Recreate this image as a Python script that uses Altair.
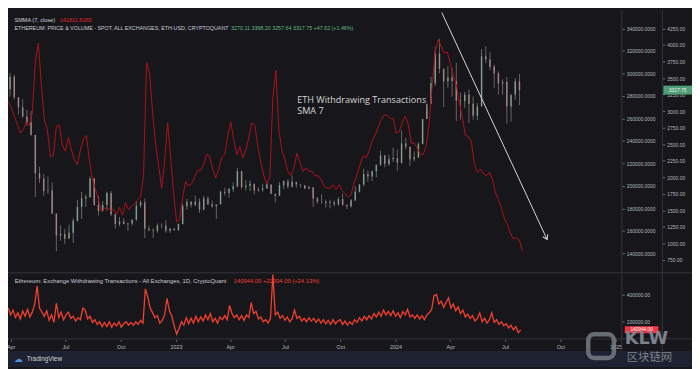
import altair as alt
import pandas as pd

# ---------------- data ----------------
# Exchange withdrawing transactions, SMA 7 (thousands), 5-day steps from 2022-03-28
sma_start = "2022-03-28"
sma_k = [
    275, 270, 262, 255, 247, 250, 257, 254, 265, 310,
    327, 290, 259, 250, 226, 227, 253, 254, 236, 231,
    243, 232, 223, 219, 232, 242, 245, 222, 206, 197,
    188, 177, 180, 181, 178, 179, 175, 181, 174, 185,
    179, 182, 184, 187, 190, 210, 310, 300, 266, 237,
    218, 198, 222, 256, 226, 193, 168, 170, 190, 204,
    200, 202, 208, 214, 214, 219, 228, 226, 215, 207,
    215, 225, 228, 245, 257, 241, 228, 235, 225, 232,
    243, 256, 254, 235, 221, 209, 202, 208, 278, 303,
    250, 232, 223, 213, 209, 216, 229, 221, 213, 216,
    213, 213, 209, 209, 206, 200, 198, 198, 201, 197,
    201, 196, 193, 190, 192, 203, 210, 219, 227, 225,
    231, 240, 245, 252, 259, 263, 263, 260, 260, 247,
    248, 256, 262, 255, 238, 238, 234, 228, 228, 236,
    256, 290, 320, 330, 324, 318, 319, 309, 298, 290,
    274, 261, 245, 244, 239, 220, 212, 215, 211, 209,
    212, 206, 194, 188, 180, 171, 166, 158, 153, 154,
    152, 141.8,
]

# Raw daily withdrawing transactions (thousands), sampled every 4 days from 2022-03-28
raw_start = "2022-03-28"
raw_k = [
    300, 250, 285, 230, 265, 220, 280, 240, 290, 235,
    270, 330, 460, 300, 270, 240, 280, 210, 250, 195,
    335, 230, 270, 215, 250, 270, 225, 240, 205, 230,
    215, 300, 285, 220, 240, 195, 215, 180, 200, 165,
    195, 165, 200, 160, 190, 170, 200, 160, 185, 200,
    175, 195, 175, 200, 180, 210, 190, 440, 380, 300,
    265, 230, 245, 190, 210, 250, 370, 280, 240, 170,
    110, 150, 200, 175, 230, 185, 225, 190, 240, 200,
    235, 205, 250, 215, 260, 200, 225, 190, 235, 215,
    245, 215, 320, 260, 230, 250, 215, 245, 210, 250,
    230, 340, 260, 275, 220, 235, 200, 215, 190, 225,
    545, 250, 270, 225, 245, 210, 235, 200, 220, 285,
    225, 240, 205, 225, 200, 230, 205, 225, 195, 220,
    190, 215, 185, 210, 180, 215, 185, 205, 215, 180,
    205, 175, 200, 180, 215, 195, 230, 205, 240, 215,
    245, 220, 260, 235, 270, 240, 285, 250, 275, 245,
    280, 240, 265, 230, 275, 250, 290, 235, 250, 225,
    250, 220, 245, 215, 250, 265, 290, 390, 400, 330,
    350, 305, 340, 375, 300, 330, 280, 310, 260, 285,
    235, 255, 225, 245, 205, 225, 265, 200, 225, 190,
    215, 265, 195, 215, 180, 200, 170, 185, 155, 175,
    140, 165, 119, 140.944,
]

# ETH-USD weekly candles (week centres from 2022-03-31)
week_start = "2022-03-31"
week_open = [
    3330, 3520, 3210, 3060, 2920, 2830, 2640, 2060, 1980, 1790,
    1800, 1450, 1120, 1140, 1070, 1160, 1340, 1550, 1680, 1700,
    1980, 1580, 1490, 1580, 1760, 1440, 1290, 1330, 1290, 1300,
    1360, 1570, 1620, 1220, 1200, 1190, 1270, 1270, 1190, 1220,
    1200, 1290, 1560, 1630, 1580, 1630, 1510, 1680, 1590, 1560,
    1590, 1780, 1760, 1820, 1860, 2090, 1850, 1870, 1900, 1800,
    1810, 1830, 1890, 1750, 1720, 1880, 1940, 1860, 1930, 1890,
    1880, 1830, 1850, 1680, 1630, 1630, 1610, 1620, 1590, 1670,
    1580, 1560, 1650, 1780, 1890, 2050, 2010, 2090, 2190, 2330,
    2200, 2270, 2290, 2220, 2510, 2460, 2270, 2300, 2500, 2880,
    3110, 3420, 3870, 3640, 3450, 3510, 3450, 3160, 3150, 3250,
    3110, 2930, 3070, 3830, 3780, 3670, 3570, 3420, 3440, 3070,
    3250, 3450,
]
week_high = [
    3580, 3550, 3210, 3180, 3020, 3000, 2640, 2160, 2050, 2010,
    1920, 1450, 1270, 1220, 1280, 1380, 1660, 1780, 1740, 2010,
    1990, 1720, 1640, 1780, 1790, 1440, 1400, 1380, 1310, 1340,
    1640, 1650, 1680, 1270, 1230, 1300, 1300, 1350, 1230, 1230,
    1300, 1600, 1670, 1640, 1720, 1680, 1720, 1710, 1650, 1570,
    1800, 1840, 1840, 1920, 2140, 2100, 1960, 1950, 1900, 1850,
    1900, 1930, 1890, 1750, 1930, 1950, 1970, 2020, 1930, 1890,
    1880, 1870, 1850, 1700, 1740, 1660, 1660, 1650, 1700, 1750,
    1590, 1670, 1860, 1900, 2130, 2100, 2100, 2190, 2400, 2340,
    2340, 2450, 2420, 2710, 2600, 2460, 2390, 2530, 2870, 3030,
    3520, 3970, 4090, 3640, 3680, 3650, 3730, 3280, 3290, 3330,
    3220, 3120, 3940, 3980, 3890, 3700, 3600, 3480, 3520, 3220,
    3500, 3560,
]
week_low = [
    3220, 3180, 2950, 2900, 2780, 2630, 1700, 1910, 1720, 1750,
    1440, 880, 1040, 990, 1070, 1010, 1330, 1370, 1550, 1690,
    1570, 1420, 1480, 1490, 1410, 1220, 1260, 1300, 1190, 1270,
    1340, 1540, 1080, 1180, 1080, 1160, 1230, 1160, 1160, 1190,
    1190, 1290, 1510, 1540, 1560, 1460, 1500, 1580, 1540, 1370,
    1590, 1720, 1690, 1780, 1850, 1820, 1800, 1790, 1740, 1780,
    1780, 1830, 1740, 1620, 1720, 1820, 1830, 1840, 1840, 1840,
    1820, 1820, 1550, 1600, 1600, 1540, 1530, 1560, 1570, 1570,
    1520, 1540, 1640, 1770, 1860, 1930, 1940, 2000, 2170, 2150,
    2170, 2230, 2100, 2200, 2420, 2170, 2240, 2290, 2500, 2880,
    3110, 3380, 3570, 3060, 3350, 3220, 2850, 2870, 3050, 2820,
    2870, 2860, 3070, 3720, 3620, 3350, 3250, 3250, 2810, 2840,
    3170, 3090,
]
week_close = [
    3520, 3210, 3060, 2920, 2830, 2640, 2060, 1980, 1790, 1800,
    1450, 1120, 1140, 1070, 1160, 1340, 1550, 1680, 1700, 1980,
    1580, 1490, 1580, 1760, 1440, 1290, 1330, 1290, 1300, 1360,
    1570, 1620, 1220, 1200, 1190, 1270, 1270, 1190, 1220, 1200,
    1290, 1560, 1630, 1580, 1630, 1510, 1680, 1590, 1560, 1590,
    1780, 1760, 1820, 1860, 2090, 1850, 1870, 1900, 1800, 1810,
    1830, 1890, 1750, 1720, 1880, 1940, 1860, 1930, 1890, 1880,
    1830, 1850, 1680, 1630, 1630, 1610, 1620, 1590, 1670, 1580,
    1560, 1650, 1780, 1890, 2050, 2010, 2090, 2190, 2330, 2200,
    2270, 2290, 2220, 2510, 2460, 2270, 2300, 2500, 2880, 3110,
    3420, 3870, 3640, 3450, 3510, 3450, 3160, 3150, 3250, 3110,
    2930, 3070, 3830, 3780, 3670, 3570, 3420, 3440, 3070, 3250,
    3450, 3317.75,
]

# trend arrow drawn on the chart (date, ETH price)
arrow_dates = ["2024-03-18", "2024-09-09"]
arrow_prices = [4488, 1058]

x_tick_dates = [(2022, 4, 1), (2022, 7, 1), (2022, 10, 1), (2023, 1, 1), (2023, 4, 1),
                (2023, 7, 1), (2023, 10, 1), (2024, 1, 1), (2024, 4, 1), (2024, 7, 1),
                (2024, 10, 1), (2025, 1, 1)]
sma_ticks = [140000, 160000, 180000, 200000, 220000, 240000, 260000, 280000, 300000, 320000, 340000]
price_ticks = [750, 1000, 1250, 1500, 1750, 2000, 2250, 2500, 2750, 3000, 3250, 3500, 3750, 4000, 4250]
raw_ticks = [200000, 400000]

hdr_sma = "SMMA (7, close)"
hdr_sma_val = "141811.8265"
hdr_price = "ETHEREUM: PRICE & VOLUME - SPOT, ALL EXCHANGES, ETH-USD, CRYPTOQUANT"
hdr_price_val = "3270.11   3398.20   3257.64   3317.75   +47.62 (+1.46%)"
hdr_raw = "Ethereum: Exchange Withdrawing Transactions - All Exchanges, 1D, CryptoQuant"
hdr_raw_val = "140944.00   +22394.00 (+24.13%)"
note_lines = ["ETH Withdrawing Transactions", "SMA 7"]

# ---------------- tables ----------------
sdf = pd.DataFrame({"date": pd.date_range(sma_start, periods=len(sma_k), freq="5D"),
                    "sma": [v * 1000 for v in sma_k]})
rdf = pd.DataFrame({"date": pd.date_range(raw_start, periods=len(raw_k), freq="4D"),
                    "raw": [v * 1000 for v in raw_k]})
cdf = pd.DataFrame({"date": pd.date_range(week_start, periods=len(week_open), freq="7D"),
                    "open": week_open, "high": week_high, "low": week_low, "close": week_close})
cdf["dir"] = ["up" if c >= o else "down" for o, c in zip(cdf["open"], cdf["close"])]
adf = pd.DataFrame({"d0": [pd.Timestamp(arrow_dates[0])], "d1": [pd.Timestamp(arrow_dates[1])],
                    "p0": [arrow_prices[0]], "p1": [arrow_prices[1]]})
last_price = cdf.tail(1).assign(label=f"{week_close[-1]:.2f}")
last_raw = rdf.tail(1).assign(label=f"{raw_k[-1] * 1000:.2f}")

# ---------------- styling ----------------
W, H = 621, 333
BG = "#17171b"
GRID = "#35363d"
LBL = "#b2b5be"
FONT = "Liberation Sans"

x_scale = alt.Scale(domain=[alt.DateTime(year=2022, month=3, date=27, hours=14),
                            alt.DateTime(year=2025, month=1, date=11, hours=5)])
price_scale = alt.Scale(domain=[750, 4250], range=[252.7, 18.6], zero=False, nice=False)
sma_scale = alt.Scale(domain=[140000, 340000], range=[246.2, 18.6], zero=False, nice=False)
raw_scale = alt.Scale(domain=[0, 400000], range=[343.0, 287.6], zero=False, nice=False)

def yaxis(values, fmt, offset=0):
    return alt.Axis(orient="right", values=values, format=fmt, offset=offset, domain=False,
                    grid=False, title=None, labelFont=FONT, labelFontSize=5, labelColor=LBL,
                    tickColor="#6a6d76", tickSize=2.5, labelPadding=2)

x_axis = alt.Axis(values=[alt.DateTime(year=y, month=m, date=d) for y, m, d in x_tick_dates],
                  labelExpr="month(datum.value) == 0 ? timeFormat(datum.value, '%Y') : timeFormat(datum.value, '%b')",
                  domain=False, grid=False, title=None, labelFont=FONT, labelFontSize=5.5,
                  labelColor=LBL, tickColor="#6a6d76", tickSize=2, labelPadding=3,
                  labelFlush=False, labelOverlap=False, orient="bottom")

def X(field="date"):
    return alt.X(f"{field}:T", scale=x_scale, axis=x_axis)

dir_color = alt.Color("dir:N", scale=alt.Scale(domain=["up", "down"], range=["#8fa697", "#a88f8f"]),
                      legend=None)

layers = []

# footer band and pane separators
layers.append(alt.Chart().mark_rect(color="#1e2230").encode(
    x=alt.value(0), x2=alt.value(692), y=alt.value(345), y2=alt.value(361)))
for xv in (W, 662):
    layers.append(alt.Chart().mark_rule(color=GRID, strokeWidth=1).encode(
        x=alt.value(xv), y=alt.value(0), y2=alt.value(345)))
for yv in (265.8, 332.6):
    layers.append(alt.Chart().mark_rule(color=GRID, strokeWidth=1).encode(
        x=alt.value(0), x2=alt.value(692), y=alt.value(yv)))

# candles
layers.append(alt.Chart(cdf).mark_rule(strokeWidth=0.7, opacity=0.85).encode(
    x=X(), y=alt.Y("low:Q", scale=price_scale, axis=yaxis(price_ticks, ".2f", 41)),
    y2="high:Q", color=dir_color))
layers.append(alt.Chart(cdf).mark_rule(strokeWidth=1.5, opacity=0.85).encode(
    x=X(), y=alt.Y("open:Q", scale=price_scale, axis=None), y2="close:Q", color=dir_color))

# SMA line
layers.append(alt.Chart(sdf).mark_line(color="#ad111a", strokeWidth=1).encode(
    x=X(), y=alt.Y("sma:Q", scale=sma_scale, axis=yaxis(sma_ticks, ".4f"))))

# raw series (lower pane)
layers.append(alt.Chart(rdf).mark_line(color="#f2402f", strokeWidth=1.3).encode(
    x=X(), y=alt.Y("raw:Q", scale=raw_scale, axis=yaxis(raw_ticks, ".2f"))))

# arrow
layers.append(alt.Chart(adf).mark_rule(color="#d9d9d9", strokeWidth=1).encode(
    x=X("d0"), x2="d1:T", y=alt.Y("p0:Q", scale=price_scale, axis=None), y2="p1:Q"))
layers.append(alt.Chart(adf).mark_point(shape="M -1 -1.6 L 0 0 L 1 -1.6", filled=False,
                                        strokeWidth=1, size=30, angle=335, color="#d9d9d9",
                                        opacity=1).encode(
    x=X("d1"), y=alt.Y("p1:Q", scale=price_scale, axis=None)))

# last value labels on the scales
layers.append(alt.Chart(last_price).mark_rect(color="#4e9f76", yOffset=4.5, y2Offset=-4.5).encode(
    x=alt.value(663), x2=alt.value(692),
    y=alt.Y("close:Q", scale=price_scale, axis=None), y2="close:Q"))
layers.append(alt.Chart(last_price).mark_text(font=FONT, fontSize=5, color="#f0f0f0").encode(
    x=alt.value(677.5), y=alt.Y("close:Q", scale=price_scale, axis=None), text="label:N"))
layers.append(alt.Chart(last_raw).mark_rect(color="#f23645", yOffset=3.5, y2Offset=-3.5).encode(
    x=alt.value(624), x2=alt.value(658),
    y=alt.Y("raw:Q", scale=raw_scale, axis=None), y2="raw:Q"))
layers.append(alt.Chart(last_raw).mark_text(font=FONT, fontSize=4.8, color="#ffffff").encode(
    x=alt.value(641), y=alt.Y("raw:Q", scale=raw_scale, axis=None), text="label:N"))

# header texts
def txt(s, x, y, color, size=5.5, font=FONT, weight="normal"):
    return alt.Chart(pd.DataFrame({"t": [s]})).mark_text(
        align="left", baseline="middle", font=font, fontSize=size, color=color,
        fontWeight=weight).encode(x=alt.value(x), y=alt.value(y), text="t:N")

layers.append(txt(hdr_sma, 6.6, 9.8, "#d1d4dc", size=5.6))
layers.append(txt(hdr_sma_val, 52.4, 9.8, "#e0222b", size=5.6))
layers.append(txt(hdr_price, 6.6, 18.6, "#c8cbd2", size=5.4))
layers.append(txt(hdr_price_val, 225.7, 18.6, "#5fb88a", size=5.4))
layers.append(txt(hdr_raw, 6.9, 273.9, "#c8cbd2", size=5.9))
layers.append(txt(hdr_raw_val, 228.4, 273.9, "#ef3b2d", size=5.9))

# annotation
layers.append(txt(note_lines[0], 292.6, 90.6, "#d6d6d6", size=9.2, font="Open Sans"))
layers.append(txt(note_lines[1], 292.6, 102.4, "#d6d6d6", size=9.2, font="Open Sans"))

# footer brand
layers.append(txt("☁", 6, 353.5, "#4c8fdc", size=9, font="DejaVu Sans"))
layers.append(txt("TradingView", 19, 353.5, "#d1d4dc", size=6.5))

# watermark
layers.append(alt.Chart().mark_rect(filled=False, stroke="#7c818b", strokeWidth=4.5,
                                    cornerRadius=6, opacity=0.8).encode(
    x=alt.value(587), x2=alt.value(613), y=alt.value(328), y2=alt.value(352)))
layers.append(txt("KLW", 624, 333, "#7c818b", size=18, font="DejaVu Sans", weight="bold"))
layers.append(txt("区块链网", 626, 352, "#7c818b", size=11.5, font="Noto Sans CJK SC"))

chart = alt.layer(*layers).resolve_scale(y="independent").properties(
    width=W, height=H,
    autosize=alt.AutoSizeParams(type="none"),
    padding={"left": 0, "top": 0, "right": 71, "bottom": 28},
).configure(background=BG).configure_view(strokeWidth=0)

chart.save("out.html", embed_options={"renderer": "svg", "actions": False})
